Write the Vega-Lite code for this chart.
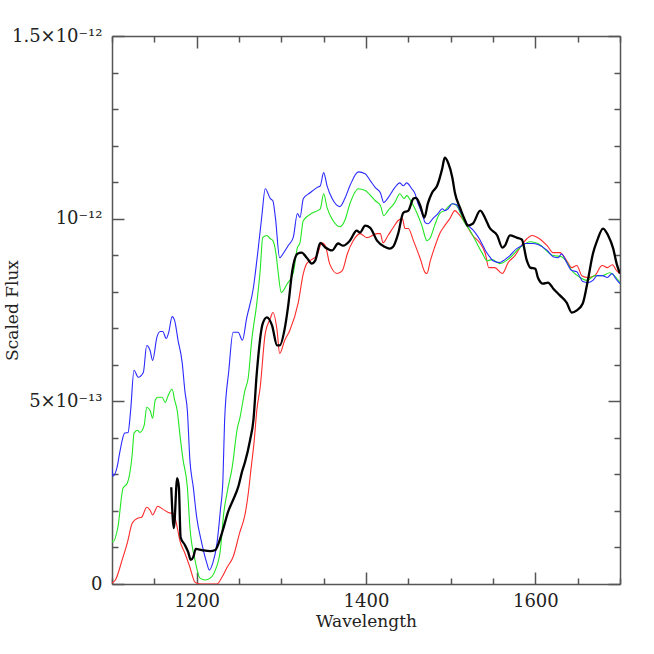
{
  "$schema": "https://vega.github.io/schema/vega-lite/v6.json",
  "width": 508,
  "height": 548,
  "autosize": {"type": "none"},
  "padding": {"left": 112, "top": 36, "right": 34, "bottom": 70},
  "background": "white",
  "config": {
    "view": {"stroke": null},
    "axis": {
      "domainColor": "#555",
      "tickColor": "#555",
      "domainWidth": 1.5,
      "tickWidth": 1.5,
      "labelFont": "DejaVu Serif",
      "titleFont": "DejaVu Serif",
      "labelColor": "#222",
      "titleColor": "#222",
      "labelFontSize": 18,
      "titleFontSize": 17,
      "titleFontWeight": "normal",
      "grid": false,
      "labelFlush": false,
      "labelOverlap": false
    }
  },
  "datasets": {
    "models": [
      {"model":"red","wl":1100,"flux":0.03e-13},{"model":"red","wl":1104,"flux":0.11e-13},{"model":"red","wl":1112,"flux":0.66e-13},{"model":"red","wl":1118,"flux":1.12e-13},{"model":"red","wl":1124,"flux":1.67e-13},{"model":"red","wl":1130,"flux":1.80e-13},{"model":"red","wl":1135,"flux":1.83e-13},{"model":"red","wl":1141,"flux":2.10e-13},{"model":"red","wl":1145,"flux":2.02e-13},{"model":"red","wl":1148,"flux":1.89e-13},{"model":"red","wl":1154,"flux":2.13e-13},{"model":"red","wl":1160,"flux":2.05e-13},{"model":"red","wl":1169,"flux":1.94e-13},{"model":"red","wl":1172,"flux":1.94e-13},{"model":"red","wl":1177,"flux":1.56e-13},{"model":"red","wl":1180,"flux":1.20e-13},{"model":"red","wl":1186,"flux":0.85e-13},{"model":"red","wl":1192,"flux":0.46e-13},{"model":"red","wl":1198,"flux":0.05e-13},{"model":"red","wl":1204,"flux":0},{"model":"red","wl":1224,"flux":0},{"model":"red","wl":1230,"flux":0.19e-13},{"model":"red","wl":1236,"flux":0.46e-13},{"model":"red","wl":1243,"flux":0.74e-13},{"model":"red","wl":1251,"flux":1.42e-13},{"model":"red","wl":1257,"flux":1.89e-13},{"model":"red","wl":1261,"flux":2.49e-13},{"model":"red","wl":1264,"flux":3.11e-13},{"model":"red","wl":1268,"flux":3.93e-13},{"model":"red","wl":1271,"flux":4.75e-13},{"model":"red","wl":1275,"flux":5.38e-13},{"model":"red","wl":1281,"flux":6.86e-13},{"model":"red","wl":1287,"flux":7.27e-13},{"model":"red","wl":1290,"flux":7.43e-13},{"model":"red","wl":1295,"flux":6.94e-13},{"model":"red","wl":1298,"flux":6.31e-13},{"model":"red","wl":1304,"flux":6.67e-13},{"model":"red","wl":1310,"flux":6.94e-13},{"model":"red","wl":1320,"flux":7.70e-13},{"model":"red","wl":1326,"flux":8.50e-13},{"model":"red","wl":1330,"flux":8.77e-13},{"model":"red","wl":1342,"flux":8.99e-13},{"model":"red","wl":1348,"flux":9.34e-13},{"model":"red","wl":1352,"flux":9.26e-13},{"model":"red","wl":1357,"flux":8.77e-13},{"model":"red","wl":1366,"flux":8.50e-13},{"model":"red","wl":1372,"flux":8.58e-13},{"model":"red","wl":1378,"flux":9.04e-13},{"model":"red","wl":1385,"flux":9.40e-13},{"model":"red","wl":1393,"flux":9.59e-13},{"model":"red","wl":1401,"flux":9.48e-13},{"model":"red","wl":1413,"flux":9.59e-13},{"model":"red","wl":1417,"flux":9.59e-13},{"model":"red","wl":1420,"flux":9.34e-13},{"model":"red","wl":1426,"flux":9.54e-13},{"model":"red","wl":1432,"flux":9.75e-13},{"model":"red","wl":1438,"flux":9.95e-13},{"model":"red","wl":1443,"flux":10.00e-13},{"model":"red","wl":1446,"flux":9.73e-13},{"model":"red","wl":1450,"flux":9.73e-13},{"model":"red","wl":1456,"flux":9.40e-13},{"model":"red","wl":1464,"flux":8.91e-13},{"model":"red","wl":1470,"flux":8.52e-13},{"model":"red","wl":1472,"flux":8.50e-13},{"model":"red","wl":1476,"flux":8.85e-13},{"model":"red","wl":1481,"flux":9.21e-13},{"model":"red","wl":1487,"flux":9.59e-13},{"model":"red","wl":1493,"flux":9.81e-13},{"model":"red","wl":1499,"flux":10.00e-13},{"model":"red","wl":1505,"flux":10.22e-13},{"model":"red","wl":1509,"flux":10.14e-13},{"model":"red","wl":1517,"flux":9.89e-13},{"model":"red","wl":1526,"flux":9.54e-13},{"model":"red","wl":1535,"flux":9.32e-13},{"model":"red","wl":1541,"flux":9.04e-13},{"model":"red","wl":1545,"flux":8.66e-13},{"model":"red","wl":1552,"flux":8.66e-13},{"model":"red","wl":1561,"flux":8.50e-13},{"model":"red","wl":1568,"flux":8.80e-13},{"model":"red","wl":1576,"flux":8.99e-13},{"model":"red","wl":1582,"flux":9.21e-13},{"model":"red","wl":1590,"flux":9.45e-13},{"model":"red","wl":1596,"flux":9.54e-13},{"model":"red","wl":1603,"flux":9.48e-13},{"model":"red","wl":1614,"flux":9.26e-13},{"model":"red","wl":1621,"flux":9.07e-13},{"model":"red","wl":1629,"flux":9.07e-13},{"model":"red","wl":1637,"flux":8.85e-13},{"model":"red","wl":1643,"flux":8.66e-13},{"model":"red","wl":1649,"flux":8.72e-13},{"model":"red","wl":1655,"flux":8.44e-13},{"model":"red","wl":1662,"flux":8.39e-13},{"model":"red","wl":1670,"flux":8.44e-13},{"model":"red","wl":1679,"flux":8.72e-13},{"model":"red","wl":1685,"flux":8.66e-13},{"model":"red","wl":1691,"flux":8.74e-13},{"model":"red","wl":1696,"flux":8.58e-13},{"model":"red","wl":1700,"flux":8.50e-13},

      {"model":"green","wl":1100,"flux":1.20e-13},{"model":"green","wl":1101,"flux":1.15e-13},{"model":"green","wl":1107,"flux":1.56e-13},{"model":"green","wl":1113,"flux":2.62e-13},{"model":"green","wl":1118,"flux":2.76e-13},{"model":"green","wl":1124,"flux":3.58e-13},{"model":"green","wl":1126,"flux":4.13e-13},{"model":"green","wl":1130,"flux":4.21e-13},{"model":"green","wl":1133,"flux":4.15e-13},{"model":"green","wl":1138,"flux":4.34e-13},{"model":"green","wl":1141,"flux":4.84e-13},{"model":"green","wl":1145,"flux":4.75e-13},{"model":"green","wl":1148,"flux":4.54e-13},{"model":"green","wl":1151,"flux":5.03e-13},{"model":"green","wl":1154,"flux":5.11e-13},{"model":"green","wl":1159,"flux":5.11e-13},{"model":"green","wl":1163,"flux":4.97e-13},{"model":"green","wl":1166,"flux":5.14e-13},{"model":"green","wl":1171,"flux":5.33e-13},{"model":"green","wl":1174,"flux":5.03e-13},{"model":"green","wl":1177,"flux":4.75e-13},{"model":"green","wl":1180,"flux":4.13e-13},{"model":"green","wl":1184,"flux":3.39e-13},{"model":"green","wl":1189,"flux":2.65e-13},{"model":"green","wl":1192,"flux":1.56e-13},{"model":"green","wl":1198,"flux":0.66e-13},{"model":"green","wl":1204,"flux":0.16e-13},{"model":"green","wl":1210,"flux":0.11e-13},{"model":"green","wl":1216,"flux":0.16e-13},{"model":"green","wl":1222,"flux":0.38e-13},{"model":"green","wl":1228,"flux":0.93e-13},{"model":"green","wl":1232,"flux":1.94e-13},{"model":"green","wl":1236,"flux":2.51e-13},{"model":"green","wl":1242,"flux":3.20e-13},{"model":"green","wl":1248,"flux":4.26e-13},{"model":"green","wl":1251,"flux":4.54e-13},{"model":"green","wl":1257,"flux":5.30e-13},{"model":"green","wl":1261,"flux":5.66e-13},{"model":"green","wl":1265,"flux":6.67e-13},{"model":"green","wl":1271,"flux":7.68e-13},{"model":"green","wl":1275,"flux":8.58e-13},{"model":"green","wl":1278,"flux":9.48e-13},{"model":"green","wl":1283,"flux":9.54e-13},{"model":"green","wl":1287,"flux":9.45e-13},{"model":"green","wl":1290,"flux":9.40e-13},{"model":"green","wl":1294,"flux":8.99e-13},{"model":"green","wl":1296,"flux":8.58e-13},{"model":"green","wl":1300,"flux":7.98e-13},{"model":"green","wl":1307,"flux":8.22e-13},{"model":"green","wl":1314,"flux":8.50e-13},{"model":"green","wl":1319,"flux":9.21e-13},{"model":"green","wl":1322,"flux":9.34e-13},{"model":"green","wl":1326,"flux":9.95e-13},{"model":"green","wl":1337,"flux":10.16e-13},{"model":"green","wl":1346,"flux":10.27e-13},{"model":"green","wl":1350,"flux":10.68e-13},{"model":"green","wl":1354,"flux":10.30e-13},{"model":"green","wl":1361,"flux":9.95e-13},{"model":"green","wl":1369,"flux":9.78e-13},{"model":"green","wl":1375,"flux":9.95e-13},{"model":"green","wl":1381,"flux":10.41e-13},{"model":"green","wl":1391,"flux":10.82e-13},{"model":"green","wl":1399,"flux":10.77e-13},{"model":"green","wl":1411,"flux":10.49e-13},{"model":"green","wl":1417,"flux":10.36e-13},{"model":"green","wl":1421,"flux":10.08e-13},{"model":"green","wl":1426,"flux":10.22e-13},{"model":"green","wl":1434,"flux":10.44e-13},{"model":"green","wl":1440,"flux":10.68e-13},{"model":"green","wl":1445,"flux":10.55e-13},{"model":"green","wl":1448,"flux":10.63e-13},{"model":"green","wl":1454,"flux":10.44e-13},{"model":"green","wl":1460,"flux":10.16e-13},{"model":"green","wl":1466,"flux":9.81e-13},{"model":"green","wl":1472,"flux":9.40e-13},{"model":"green","wl":1476,"flux":9.48e-13},{"model":"green","wl":1481,"flux":9.81e-13},{"model":"green","wl":1487,"flux":10.14e-13},{"model":"green","wl":1493,"flux":10.22e-13},{"model":"green","wl":1502,"flux":10.41e-13},{"model":"green","wl":1507,"flux":10.36e-13},{"model":"green","wl":1515,"flux":9.95e-13},{"model":"green","wl":1523,"flux":9.67e-13},{"model":"green","wl":1537,"flux":9.07e-13},{"model":"green","wl":1543,"flux":8.85e-13},{"model":"green","wl":1549,"flux":8.88e-13},{"model":"green","wl":1558,"flux":8.77e-13},{"model":"green","wl":1570,"flux":8.93e-13},{"model":"green","wl":1582,"flux":9.21e-13},{"model":"green","wl":1594,"flux":9.37e-13},{"model":"green","wl":1603,"flux":9.32e-13},{"model":"green","wl":1621,"flux":8.99e-13},{"model":"green","wl":1631,"flux":8.96e-13},{"model":"green","wl":1637,"flux":8.82e-13},{"model":"green","wl":1643,"flux":8.58e-13},{"model":"green","wl":1653,"flux":8.39e-13},{"model":"green","wl":1661,"flux":8.31e-13},{"model":"green","wl":1670,"flux":8.44e-13},{"model":"green","wl":1679,"flux":8.44e-13},{"model":"green","wl":1688,"flux":8.52e-13},{"model":"green","wl":1694,"flux":8.42e-13},{"model":"green","wl":1700,"flux":8.25e-13},

      {"model":"blue","wl":1100,"flux":3.17e-13},{"model":"blue","wl":1101,"flux":2.95e-13},{"model":"blue","wl":1106,"flux":3.20e-13},{"model":"blue","wl":1109,"flux":3.58e-13},{"model":"blue","wl":1115,"flux":4.13e-13},{"model":"blue","wl":1119,"flux":4.15e-13},{"model":"blue","wl":1122,"flux":4.75e-13},{"model":"blue","wl":1126,"flux":5.85e-13},{"model":"blue","wl":1131,"flux":5.66e-13},{"model":"blue","wl":1137,"flux":5.79e-13},{"model":"blue","wl":1141,"flux":6.53e-13},{"model":"blue","wl":1145,"flux":6.39e-13},{"model":"blue","wl":1148,"flux":6.12e-13},{"model":"blue","wl":1153,"flux":6.75e-13},{"model":"blue","wl":1157,"flux":6.91e-13},{"model":"blue","wl":1160,"flux":6.91e-13},{"model":"blue","wl":1164,"flux":6.72e-13},{"model":"blue","wl":1167,"flux":6.89e-13},{"model":"blue","wl":1171,"flux":7.32e-13},{"model":"blue","wl":1174,"flux":7.21e-13},{"model":"blue","wl":1178,"flux":6.67e-13},{"model":"blue","wl":1183,"flux":6.04e-13},{"model":"blue","wl":1186,"flux":5.30e-13},{"model":"blue","wl":1189,"flux":4.75e-13},{"model":"blue","wl":1192,"flux":3.39e-13},{"model":"blue","wl":1196,"flux":2.65e-13},{"model":"blue","wl":1200,"flux":1.83e-13},{"model":"blue","wl":1206,"flux":1.12e-13},{"model":"blue","wl":1212,"flux":0.57e-13},{"model":"blue","wl":1215,"flux":0.38e-13},{"model":"blue","wl":1219,"flux":0.57e-13},{"model":"blue","wl":1224,"flux":1.12e-13},{"model":"blue","wl":1228,"flux":2.02e-13},{"model":"blue","wl":1231,"flux":2.84e-13},{"model":"blue","wl":1233,"flux":4.48e-13},{"model":"blue","wl":1238,"flux":5.85e-13},{"model":"blue","wl":1243,"flux":6.89e-13},{"model":"blue","wl":1249,"flux":6.89e-13},{"model":"blue","wl":1254,"flux":6.67e-13},{"model":"blue","wl":1259,"flux":7.27e-13},{"model":"blue","wl":1267,"flux":8.11e-13},{"model":"blue","wl":1272,"flux":9.04e-13},{"model":"blue","wl":1277,"flux":10.08e-13},{"model":"blue","wl":1281,"flux":10.82e-13},{"model":"blue","wl":1287,"flux":10.55e-13},{"model":"blue","wl":1290,"flux":10.49e-13},{"model":"blue","wl":1293,"flux":10.03e-13},{"model":"blue","wl":1298,"flux":8.93e-13},{"model":"blue","wl":1302,"flux":9.04e-13},{"model":"blue","wl":1308,"flux":9.26e-13},{"model":"blue","wl":1314,"flux":9.48e-13},{"model":"blue","wl":1319,"flux":10.14e-13},{"model":"blue","wl":1322,"flux":10.03e-13},{"model":"blue","wl":1326,"flux":10.55e-13},{"model":"blue","wl":1334,"flux":10.71e-13},{"model":"blue","wl":1342,"flux":10.85e-13},{"model":"blue","wl":1346,"flux":10.90e-13},{"model":"blue","wl":1350,"flux":11.26e-13},{"model":"blue","wl":1354,"flux":10.90e-13},{"model":"blue","wl":1360,"flux":10.55e-13},{"model":"blue","wl":1369,"flux":10.33e-13},{"model":"blue","wl":1375,"flux":10.55e-13},{"model":"blue","wl":1381,"flux":10.90e-13},{"model":"blue","wl":1391,"flux":11.28e-13},{"model":"blue","wl":1399,"flux":11.23e-13},{"model":"blue","wl":1405,"flux":11.04e-13},{"model":"blue","wl":1411,"flux":10.85e-13},{"model":"blue","wl":1417,"flux":10.71e-13},{"model":"blue","wl":1421,"flux":10.44e-13},{"model":"blue","wl":1426,"flux":10.57e-13},{"model":"blue","wl":1434,"flux":10.85e-13},{"model":"blue","wl":1440,"flux":10.98e-13},{"model":"blue","wl":1444,"flux":10.90e-13},{"model":"blue","wl":1448,"flux":10.98e-13},{"model":"blue","wl":1454,"flux":10.82e-13},{"model":"blue","wl":1458,"flux":10.68e-13},{"model":"blue","wl":1461,"flux":10.44e-13},{"model":"blue","wl":1466,"flux":10.16e-13},{"model":"blue","wl":1470,"flux":9.89e-13},{"model":"blue","wl":1473,"flux":9.86e-13},{"model":"blue","wl":1479,"flux":10.00e-13},{"model":"blue","wl":1485,"flux":10.14e-13},{"model":"blue","wl":1490,"flux":10.27e-13},{"model":"blue","wl":1493,"flux":10.22e-13},{"model":"blue","wl":1497,"flux":10.27e-13},{"model":"blue","wl":1502,"flux":10.41e-13},{"model":"blue","wl":1507,"flux":10.38e-13},{"model":"blue","wl":1511,"flux":10.22e-13},{"model":"blue","wl":1517,"flux":9.95e-13},{"model":"blue","wl":1522,"flux":9.78e-13},{"model":"blue","wl":1526,"flux":9.70e-13},{"model":"blue","wl":1535,"flux":9.40e-13},{"model":"blue","wl":1541,"flux":9.13e-13},{"model":"blue","wl":1546,"flux":8.96e-13},{"model":"blue","wl":1550,"flux":8.85e-13},{"model":"blue","wl":1558,"flux":8.80e-13},{"model":"blue","wl":1564,"flux":8.88e-13},{"model":"blue","wl":1570,"flux":8.99e-13},{"model":"blue","wl":1578,"flux":9.18e-13},{"model":"blue","wl":1582,"flux":9.23e-13},{"model":"blue","wl":1588,"flux":9.32e-13},{"model":"blue","wl":1597,"flux":9.32e-13},{"model":"blue","wl":1603,"flux":9.29e-13},{"model":"blue","wl":1614,"flux":9.13e-13},{"model":"blue","wl":1621,"flux":8.96e-13},{"model":"blue","wl":1627,"flux":8.93e-13},{"model":"blue","wl":1631,"flux":9.04e-13},{"model":"blue","wl":1637,"flux":8.80e-13},{"model":"blue","wl":1643,"flux":8.58e-13},{"model":"blue","wl":1649,"flux":8.55e-13},{"model":"blue","wl":1653,"flux":8.39e-13},{"model":"blue","wl":1656,"flux":8.28e-13},{"model":"blue","wl":1662,"flux":8.25e-13},{"model":"blue","wl":1668,"flux":8.31e-13},{"model":"blue","wl":1673,"flux":8.44e-13},{"model":"blue","wl":1679,"flux":8.44e-13},{"model":"blue","wl":1685,"flux":8.39e-13},{"model":"blue","wl":1691,"flux":8.50e-13},{"model":"blue","wl":1694,"flux":8.39e-13},{"model":"blue","wl":1700,"flux":8.22e-13}
    ],
    "observed": [
      {"wl":1170,"flux":2.65e-13},{"wl":1173,"flux":1.53e-13},{"wl":1177,"flux":2.90e-13},{"wl":1179,"flux":2.65e-13},{"wl":1181,"flux":1.28e-13},{"wl":1186,"flux":1.07e-13},{"wl":1190,"flux":0.87e-13},{"wl":1193,"flux":0.66e-13},{"wl":1196,"flux":0.74e-13},{"wl":1199,"flux":0.96e-13},{"wl":1206,"flux":0.93e-13},{"wl":1216,"flux":0.90e-13},{"wl":1222,"flux":0.93e-13},{"wl":1226,"flux":1.12e-13},{"wl":1231,"flux":1.48e-13},{"wl":1237,"flux":1.97e-13},{"wl":1243,"flux":2.30e-13},{"wl":1249,"flux":2.65e-13},{"wl":1254,"flux":3.11e-13},{"wl":1257,"flux":3.33e-13},{"wl":1263,"flux":3.93e-13},{"wl":1267,"flux":4.48e-13},{"wl":1271,"flux":5.77e-13},{"wl":1278,"flux":7.13e-13},{"wl":1283,"flux":7.30e-13},{"wl":1289,"flux":7.08e-13},{"wl":1295,"flux":6.53e-13},{"wl":1298,"flux":6.53e-13},{"wl":1304,"flux":6.99e-13},{"wl":1308,"flux":7.60e-13},{"wl":1313,"flux":8.58e-13},{"wl":1319,"flux":9.04e-13},{"wl":1324,"flux":9.07e-13},{"wl":1330,"flux":8.93e-13},{"wl":1336,"flux":8.77e-13},{"wl":1340,"flux":8.85e-13},{"wl":1346,"flux":9.34e-13},{"wl":1352,"flux":9.21e-13},{"wl":1360,"flux":9.13e-13},{"wl":1367,"flux":9.32e-13},{"wl":1373,"flux":9.26e-13},{"wl":1381,"flux":9.40e-13},{"wl":1389,"flux":9.67e-13},{"wl":1393,"flux":9.62e-13},{"wl":1399,"flux":9.81e-13},{"wl":1405,"flux":9.75e-13},{"wl":1413,"flux":9.40e-13},{"wl":1422,"flux":9.23e-13},{"wl":1428,"flux":9.18e-13},{"wl":1432,"flux":9.23e-13},{"wl":1438,"flux":9.59e-13},{"wl":1444,"flux":10.16e-13},{"wl":1450,"flux":10.22e-13},{"wl":1456,"flux":10.55e-13},{"wl":1459,"flux":10.57e-13},{"wl":1464,"flux":10.36e-13},{"wl":1469,"flux":10.03e-13},{"wl":1473,"flux":10.41e-13},{"wl":1478,"flux":10.71e-13},{"wl":1484,"flux":10.90e-13},{"wl":1490,"flux":11.37e-13},{"wl":1493,"flux":11.67e-13},{"wl":1497,"flux":11.53e-13},{"wl":1502,"flux":11.12e-13},{"wl":1505,"flux":10.71e-13},{"wl":1511,"flux":10.30e-13},{"wl":1517,"flux":9.95e-13},{"wl":1520,"flux":9.81e-13},{"wl":1526,"flux":9.86e-13},{"wl":1535,"flux":10.22e-13},{"wl":1541,"flux":10.00e-13},{"wl":1546,"flux":9.75e-13},{"wl":1555,"flux":9.54e-13},{"wl":1561,"flux":9.21e-13},{"wl":1564,"flux":9.26e-13},{"wl":1570,"flux":9.54e-13},{"wl":1578,"flux":9.48e-13},{"wl":1584,"flux":9.43e-13},{"wl":1590,"flux":8.85e-13},{"wl":1594,"flux":8.66e-13},{"wl":1600,"flux":8.63e-13},{"wl":1603,"flux":8.39e-13},{"wl":1609,"flux":8.22e-13},{"wl":1615,"flux":8.25e-13},{"wl":1621,"flux":8.09e-13},{"wl":1629,"flux":7.90e-13},{"wl":1637,"flux":7.70e-13},{"wl":1643,"flux":7.43e-13},{"wl":1649,"flux":7.49e-13},{"wl":1656,"flux":7.68e-13},{"wl":1662,"flux":8.31e-13},{"wl":1668,"flux":9.04e-13},{"wl":1673,"flux":9.40e-13},{"wl":1680,"flux":9.73e-13},{"wl":1686,"flux":9.54e-13},{"wl":1692,"flux":9.18e-13},{"wl":1696,"flux":8.77e-13},{"wl":1700,"flux":8.50e-13}
    ]
  },
  "layer": [
    {
      "data": {"name": "models"},
      "mark": {"type": "line", "strokeWidth": 1.1, "clip": true, "interpolate": "monotone"},
      "encoding": {
        "x": {
          "field": "wl", "type": "quantitative",
          "scale": {"domain": [1100, 1700], "nice": false, "zero": false},
          "axis": {
            "orient": "bottom",
            "values": [1100,1150,1200,1250,1300,1350,1400,1450,1500,1550,1600,1650,1700],
            "tickSize": {"condition": {"test": "datum.value % 200 === 0", "value": -12}, "value": -6},
            "labelExpr": "datum.value % 200 === 0 ? '' + datum.value : ''",
            "labelPadding": 20,
            "title": "Wavelength",
            "titleX": 254, "titleY": 37, "titleBaseline": "middle", "titleAlign": "center", "titleAnchor": null
          }
        },
        "y": {
          "field": "flux", "type": "quantitative",
          "scale": {"domain": [0, 1.5e-12], "nice": false, "zero": true},
          "axis": {
            "orient": "left",
            "values": [0,1e-13,2e-13,3e-13,4e-13,5e-13,6e-13,7e-13,8e-13,9e-13,1e-12,1.1e-12,1.2e-12,1.3e-12,1.4e-12,1.5e-12],
            "tickSize": {"condition": {"test": "abs(datum.value/5e-13 - round(datum.value/5e-13)) < 1e-6", "value": -12}, "value": -6},
            "labelExpr": "datum.value < 1e-15 ? '0' : abs(datum.value - 5e-13) < 1e-16 ? '5×10⁻¹³' : abs(datum.value - 1e-12) < 1e-16 ? '10⁻¹²' : abs(datum.value - 1.5e-12) < 1e-16 ? '1.5×10⁻¹²' : ''",
            "labelPadding": 22,
            "title": "Scaled Flux",
            "titleX": -100, "titleY": 274, "titleAngle": -90, "titleBaseline": "middle", "titleAlign": "center", "titleAnchor": null
          }
        },
        "color": {
          "field": "model", "type": "nominal",
          "scale": {"domain": ["red", "green", "blue"], "range": ["#ff2a2a", "#22e622", "#2a2aff"]},
          "legend": null
        }
      }
    },
    {
      "data": {"name": "observed"},
      "mark": {"type": "line", "strokeWidth": 2.3, "color": "#000000", "clip": true, "interpolate": "monotone"},
      "encoding": {
        "x": {
          "field": "wl", "type": "quantitative",
          "scale": {"domain": [1100, 1700], "nice": false, "zero": false},
          "axis": {
            "orient": "top",
            "values": [1100,1150,1200,1250,1300,1350,1400,1450,1500,1550,1600,1650,1700],
            "tickSize": {"condition": {"test": "datum.value % 200 === 0", "value": -12}, "value": -6},
            "labels": false,
            "title": null
          }
        },
        "y": {
          "field": "flux", "type": "quantitative",
          "scale": {"domain": [0, 1.5e-12], "nice": false, "zero": true},
          "axis": {
            "orient": "right",
            "values": [0,1e-13,2e-13,3e-13,4e-13,5e-13,6e-13,7e-13,8e-13,9e-13,1e-12,1.1e-12,1.2e-12,1.3e-12,1.4e-12,1.5e-12],
            "tickSize": {"condition": {"test": "abs(datum.value/5e-13 - round(datum.value/5e-13)) < 1e-6", "value": -12}, "value": -6},
            "labels": false,
            "title": null
          }
        }
      }
    }
  ],
  "resolve": {"axis": {"x": "independent", "y": "independent"}}
}
